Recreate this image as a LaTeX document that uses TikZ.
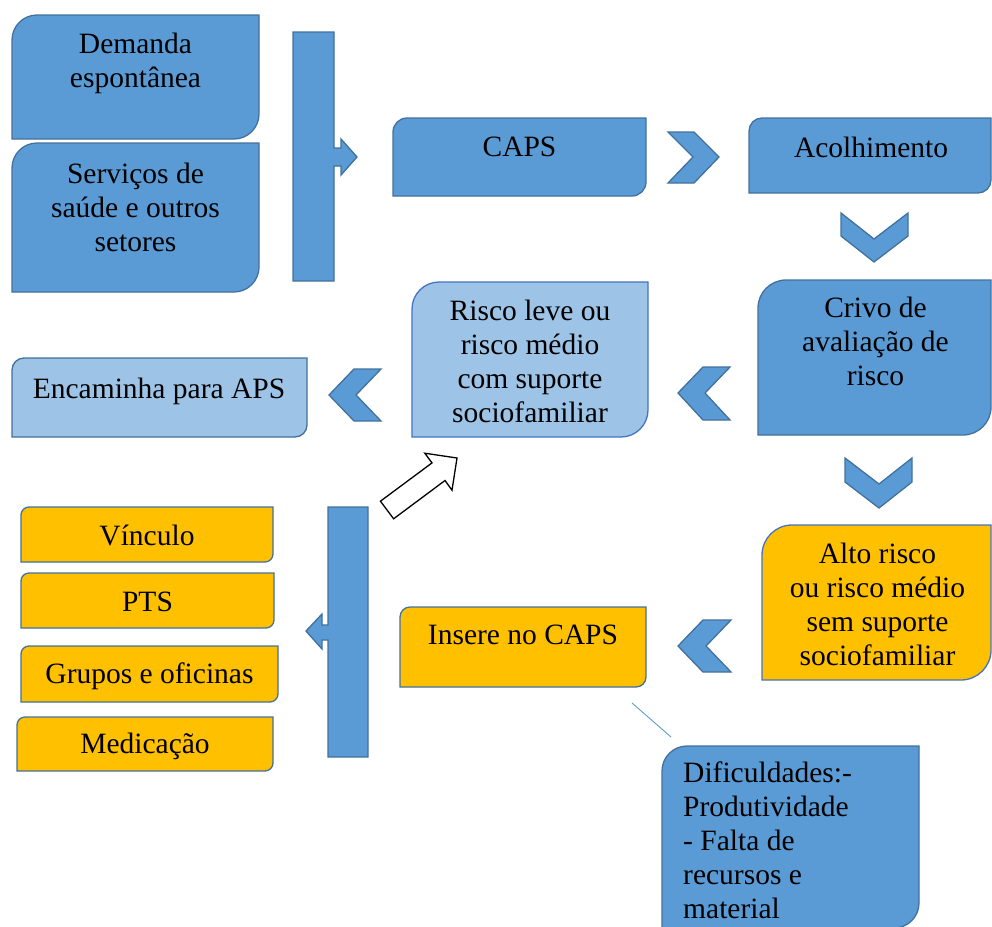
\documentclass[tikz,border=0pt]{standalone}
\usepackage{fontspec}
\setmainfont{Liberation Serif}
\definecolor{blueF}{HTML}{5B9BD5}
\definecolor{blueD}{HTML}{41719C}
\definecolor{lightF}{HTML}{9DC3E6}
\definecolor{orangeF}{HTML}{FFC000}
\definecolor{brightB}{HTML}{4472C4}
\tikzset{
  bluebox/.style={fill=blueF, draw=blueD, line width=1.3pt},
  lightbox/.style={fill=lightF, draw=blueD, line width=1.3pt},
  lightboxb/.style={fill=lightF, draw=brightB, line width=1.3pt},
  orangebox/.style={fill=orangeF, draw=blueD, line width=1.3pt},
  orangeboxb/.style={fill=orangeF, draw=brightB, line width=1.3pt},
  chev/.style={fill=blueF, draw=blueD, line width=1.3pt, line join=miter},
  bar/.style={fill=blueF, draw=blueD, line width=1.3pt},
  txt/.style={font=\fontsize{29.5}{34}\selectfont, align=center, inner sep=0pt},
  hollow/.style={fill=white, draw=black, line width=1.3pt, line join=miter},
  callout/.style={draw=blueF, line width=0.9pt}
}
% diagonal rounded box: style, x1, y1, x2, y2, radius
\newcommand\dgbox[6]{%
  \draw[#1] ({#2},{#3+#6}) .. controls ({#2},{#3+0.448*#6}) and ({#2+0.448*#6},{#3}) .. ({#2+#6},{#3})
    -- ({#4},{#3}) -- ({#4},{#5-#6})
    .. controls ({#4},{#5-0.448*#6}) and ({#4-0.448*#6},{#5}) .. ({#4-#6},{#5})
    -- ({#2},{#5}) -- cycle;}
\begin{document}
\begin{tikzpicture}[x=1pt,y=-1pt]
\useasboundingbox (0,0) rectangle (992,926);
\begin{scope}
\clip (0,0) rectangle (992,926);
% boxes
\dgbox{bluebox}{12}{15}{259}{139}{25}
\dgbox{bluebox}{12}{143}{259}{292}{25}
\dgbox{bluebox}{393}{118}{646}{196}{14}
\dgbox{bluebox}{749}{118}{991}{193}{13}
\dgbox{bluebox}{758}{280}{991}{435}{28}
\dgbox{lightboxb}{412}{282}{648}{437}{27}
\dgbox{lightbox}{12}{358}{307}{437}{12}
\dgbox{orangeboxb}{762}{525}{991}{680}{30}
\dgbox{orangebox}{400}{607}{646}{687}{10}
\dgbox{orangebox}{21}{507}{273}{562}{8}
\dgbox{orangebox}{21}{573}{274}{628}{8}
\dgbox{orangebox}{21}{646}{278}{702}{8}
\dgbox{orangebox}{17}{717}{273}{771}{8}
\dgbox{bluebox}{662}{746}{919}{928}{25}

% bracket bars
\draw[bar] (293,32) -- (334,32) -- (334,148) -- (341,148) -- (341,139) -- (357,157)
  -- (341,175) -- (341,166) -- (334,166) -- (334,281) -- (293,281) -- cycle;
\draw[bar] (368,507) -- (328,507) -- (328,625) -- (322,625) -- (322,614) -- (306,631)
  -- (322,649) -- (322,640) -- (328,640) -- (328,757) -- (368,757) -- cycle;

% chevrons
\draw[chev] (668,132) -- (694,132) -- (719,157) -- (694,183) -- (668,183) -- (693,157) -- cycle;
\draw[chev] (841,213) -- (874,239) -- (908,213) -- (908,236) -- (874,262) -- (841,236) -- cycle;
\draw[chev] (845,458) -- (879,484) -- (912,458) -- (912,482) -- (879,508) -- (845,482) -- cycle;
\draw[chev] (678,393) -- (703,367) -- (730,367) -- (705,393) -- (730,420) -- (703,420) -- cycle;
\draw[chev] (329,395) -- (354,369) -- (381,369) -- (356,395) -- (381,421) -- (354,421) -- cycle;
\draw[chev] (678,646) -- (703,620) -- (731,620) -- (706,646) -- (731,672) -- (703,672) -- cycle;

% hollow arrow
\draw[hollow] (380.4,501.2) -- (432,462.9) -- (424.8,453.2) -- (457,458) -- (452,490.2)
  -- (445,480.5) -- (393.6,518.8) -- cycle;

% text
\node[txt] (demanda) at (135.5,63) {Demanda\\espontânea};
\node[txt] (servicos) at (135.5,207) {Serviços de\\saúde e outros\\setores};
\node[txt] (caps) at (519.5,147) {CAPS};
\node[txt] (acolhimento) at (871,147) {Acolhimento};
\node[txt] (crivo) at (875.5,341.5) {Crivo de\\avaliação de\\risco};
\node[txt] (riscoleve) at (530,361) {Risco leve ou\\risco médio\\com suporte\\sociofamiliar};
\node[txt] (encaminha) at (159,391) {Encaminha para APS};
\node[txt] (alto) at (877.5,604) {Alto risco\\ou risco médio\\sem suporte\\sociofamiliar};
\node[txt] (insere) at (523,635) {Insere no CAPS};
\node[txt] (vinculo) at (147,535) {Vínculo};
\node[txt] (pts) at (147.5,602) {PTS};
\node[txt] (grupos) at (149.5,676) {Grupos e oficinas};
\node[txt] (medicacao) at (145,746) {Medicação};
\node[txt, align=left, anchor=north west] (dificuldades) at (683,762)
  {Dificuldades:-\\Produtividade\\- Falta de\\recursos e\\material};

% callout line
\coordinate (cA) at (632,703);
\coordinate (cB) at (671,737);
\draw[callout] (cA) -- (cB);
\end{scope}
\end{tikzpicture}
\end{document}
